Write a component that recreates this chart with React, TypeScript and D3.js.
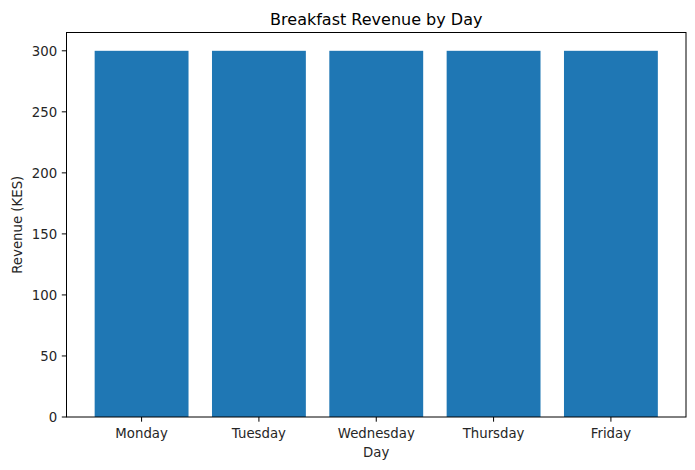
import * as d3 from "d3";
import React from "react";

const days = ["Monday", "Tuesday", "Wednesday", "Thursday", "Friday"];
const revenue = [300, 300, 300, 300, 300];
const yTicks = [0, 50, 100, 150, 200, 250, 300];

const App: React.FC = () => {
  const W = 695,
    H = 470;
  const margin = { top: 32.5, right: 9, bottom: 53, left: 66.5 };
  const width = W - margin.left - margin.right;
  const height = H - margin.top - margin.bottom;

  const x = d3.scaleLinear().domain([-0.64, 4.64]).range([0, width]);
  const y = d3.scaleLinear().domain([0, 315]).range([height, 0]);
  const barW = x(0.8) - x(0);

  const font = "DejaVu Sans, sans-serif";
  const ink = "#262626";
  const fs = 13.3;

  return (
    <svg
      width={W}
      height={H}
      style={{ position: "absolute", left: 0, top: 0, background: "#fff" }}
      fontFamily={font}
    >
      <g transform={`translate(${margin.left}, ${margin.top})`}>
        {revenue.map((v, i) => (
          <rect
            key={days[i]}
            x={x(i) - barW / 2}
            y={y(v)}
            width={barW}
            height={height - y(v)}
            fill="#1f77b4"
          />
        ))}
        <rect
          x={0}
          y={0}
          width={width}
          height={height}
          fill="none"
          stroke="#000"
          strokeWidth={1}
        />
        {yTicks.map((t) => (
          <g key={t} transform={`translate(0, ${y(t)})`}>
            <line x1={-4.7} x2={0} stroke="#000" />
            <text x={-9.3} dy="0.36em" textAnchor="end" fontSize={fs} fill={ink}>
              {t}
            </text>
          </g>
        ))}
        {days.map((d, i) => (
          <g key={d} transform={`translate(${x(i)}, ${height})`}>
            <line y1={0} y2={4.7} stroke="#000" />
            <text y={20.7} textAnchor="middle" fontSize={fs} fill={ink}>
              {d}
            </text>
          </g>
        ))}
        <text
          x={width / 2}
          y={height + 39.7}
          textAnchor="middle"
          fontSize={fs}
          fill={ink}
        >
          Day
        </text>
        <text
          transform={`translate(${-45}, ${height / 2}) rotate(-90)`}
          textAnchor="middle"
          fontSize={fs}
          fill={ink}
        >
          Revenue (KES)
        </text>
        <text x={width / 2} y={-7.5} textAnchor="middle" fontSize={16} fill="#000">
          Breakfast Revenue by Day
        </text>
      </g>
    </svg>
  );
};

export default App;
